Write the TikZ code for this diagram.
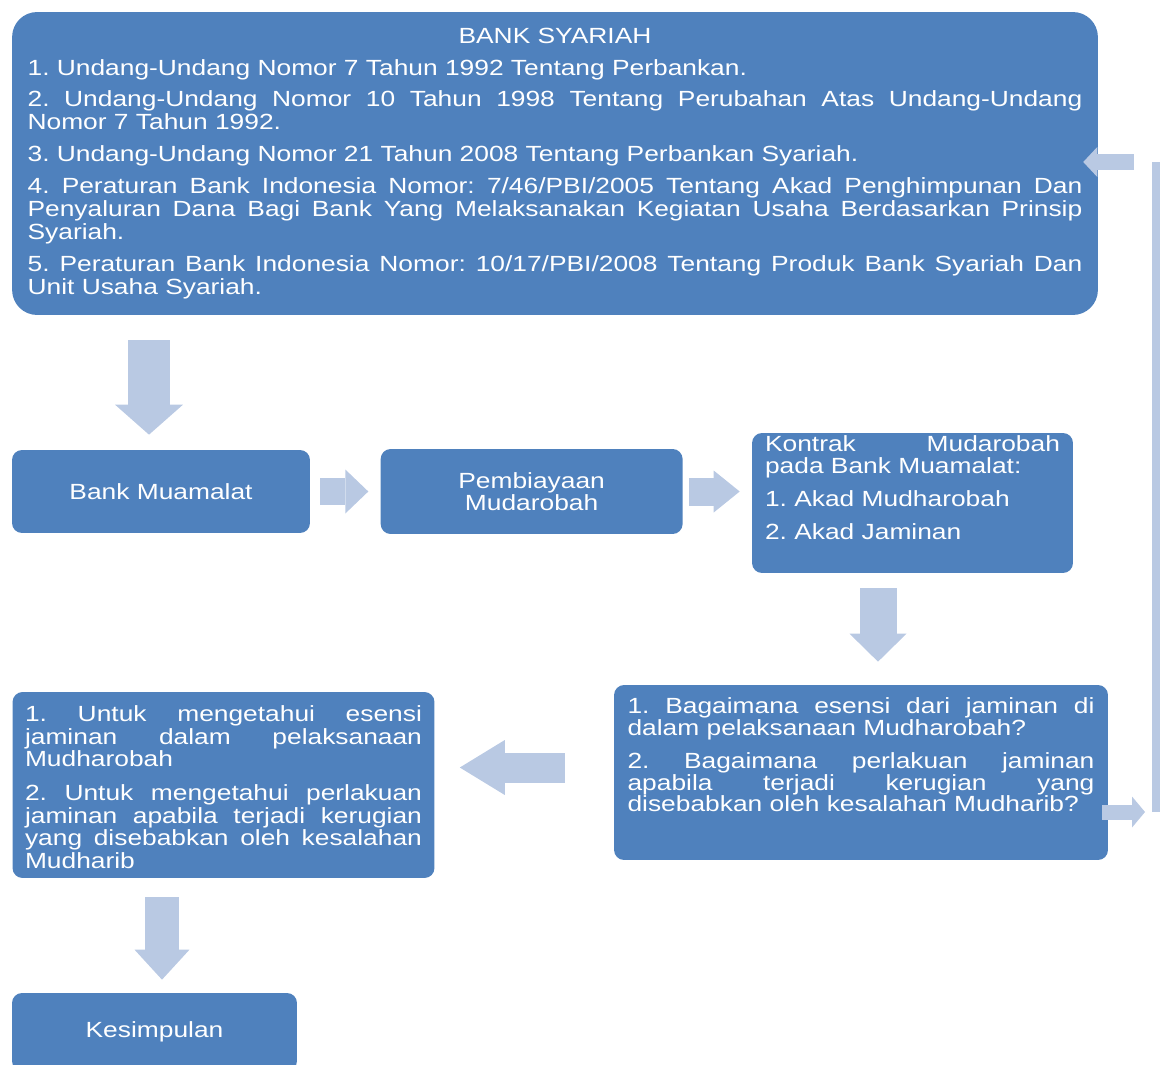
\documentclass[tikz,border=0pt]{standalone}
\usepackage{fontspec}
\setmainfont{Liberation Sans}[FakeStretch=1.2]
\usetikzlibrary{arrows.meta,positioning}
\definecolor{boxblue}{HTML}{4F81BD}
\definecolor{arrowblue}{HTML}{B9C9E3}
\frenchspacing

\begin{document}
\begin{tikzpicture}[x=0.02cm,y=-0.02cm,
  box/.style={fill=boxblue,text=white,rounded corners=0.2cm,inner sep=0pt,font=\fontsize{12.5}{12.3}\selectfont},
  boxtext/.style={text=white,inner sep=0pt,align=justify,font=\fontsize{12.5}{12.3}\selectfont,execute at begin node={\setlength{\parskip}{6.5pt}}},
  blockarr/.style n args={3}{draw=arrowblue,line width=#1,-{Triangle[width=#2,length=#3,line width=0pt]}}]
  \useasboundingbox (0,0) rectangle (1165,1064);

  % dasar hukum
  \node[box,rounded corners=0.5cm,minimum width=21.72cm,minimum height=6.06cm,text width=21.1cm,align=justify,
        font=\fontsize{12.5}{13.1}\selectfont,execute at begin node={\setlength{\parskip}{5pt}}] (syariah) at (555,163.5) {%
    {\centering BANK SYARIAH\par}
    1. Undang-Undang Nomor 7 Tahun 1992 Tentang Perbankan.\par
    2. Undang-Undang Nomor 10 Tahun 1998 Tentang Perubahan Atas Undang-Undang\linebreak Nomor 7 Tahun 1992.\par
    3. Undang-Undang Nomor 21 Tahun 2008 Tentang Perbankan Syariah.\par
    4. Peraturan Bank Indonesia Nomor: 7/46/PBI/2005 Tentang Akad Penghimpunan Dan\linebreak Penyaluran Dana Bagi Bank Yang Melaksanakan Kegiatan Usaha Berdasarkan Prinsip\linebreak Syariah.\par
    5. Peraturan Bank Indonesia Nomor: 10/17/PBI/2008 Tentang Produk Bank Syariah Dan\linebreak Unit Usaha Syariah.};

  % baris tengah
  \node[box,minimum width=5.96cm,minimum height=1.66cm] (muamalat) at (161,491.5) {Bank Muamalat};
  \node[box,minimum width=6.04cm,minimum height=1.7cm,align=center,right=1.4cm of muamalat] (pembiayaan) {Pembiayaan\\Mudarobah};
  \node[box,minimum width=6.42cm,minimum height=2.8cm] (kontrak) at (912.5,503) {};
  \node[boxtext,text width=5.9cm,below=0.06cm of kontrak.north] (kontraktext) {%
    Kontrak Mudarobah\linebreak pada Bank Muamalat:\par
    1. Akad Mudharobah\par
    2. Akad Jaminan};

  % rumusan masalah dan tujuan
  \node[box,minimum width=9.88cm,minimum height=3.5cm] (masalah) at (861,772.5) {};
  \node[boxtext,text width=9.34cm,below=0.26cm of masalah.north] (masalahtext) {%
    1. Bagaimana esensi dari jaminan di\linebreak dalam pelaksanaan Mudharobah?\par
    2. Bagaimana perlakuan jaminan\linebreak apabila terjadi kerugian yang\linebreak disebabkan oleh kesalahan Mudharib?};
  \node[box,minimum width=8.44cm,minimum height=3.72cm] (tujuan) at (223.5,785) {};
  \node[boxtext,text width=7.94cm,font=\fontsize{12.5}{12.8}\selectfont,below=0.28cm of tujuan.north] (tujuantext) {%
    1. Untuk mengetahui esensi\linebreak jaminan dalam pelaksanaan\linebreak Mudharobah\par
    2. Untuk mengetahui perlakuan\linebreak jaminan apabila terjadi kerugian\linebreak yang disebabkan oleh kesalahan\linebreak Mudharib};
  \node[box,minimum width=5.7cm,minimum height=1.56cm] (kesimpulan) at (154.5,1032) {Kesimpulan};

  % panah
  \draw[blockarr={0.84cm}{1.36cm}{0.6cm},shorten <=0.5cm,shorten >=0.3cm] ([xshift=-0.24cm]muamalat.north |- syariah.south) -- ([xshift=-0.24cm]muamalat.north);
  \draw[blockarr={0.54cm}{0.88cm}{0.46cm},shorten <=0.2cm,shorten >=0.24cm] (muamalat) -- (pembiayaan);
  \draw[blockarr={0.56cm}{0.84cm}{0.52cm},shorten <=0.12cm,shorten >=0.24cm] (pembiayaan.east) -- (pembiayaan.east -| kontrak.west);
  \draw[blockarr={0.74cm}{1.14cm}{0.56cm},shorten <=0.3cm,shorten >=0.46cm] ([xshift=-0.69cm]kontrak.south) -- ([xshift=-0.69cm]kontrak.south |- masalah.north);
  \draw[blockarr={0.6cm}{1.1cm}{0.9cm},shorten <=0.98cm,shorten >=0.5cm] ([yshift=0.1cm]masalah.west) -- ([yshift=0.1cm]masalah.west -| tujuan.east);
  \draw[blockarr={0.7cm}{1.1cm}{0.6cm},shorten <=0.38cm,shorten >=0.26cm] ([xshift=0.15cm]kesimpulan.north |- tujuan.south) -- ([xshift=0.15cm]kesimpulan.north);

  % umpan balik
  \coordinate (balikbawah) at (1156,812);
  \coordinate (balikatas) at (1156,162);
  \draw[blockarr={0.3cm}{0.62cm}{0.26cm},shorten <=-0.12cm,shorten >=0.22cm] (masalah.east |- balikbawah) -- (balikbawah);
  \draw[arrowblue,line width=0.16cm] (balikbawah) -- (balikatas);
  \draw[blockarr={0.32cm}{0.6cm}{0.28cm},shorten <=0.44cm,shorten >=-0.3cm] (balikatas) -- (syariah.east |- balikatas);
\end{tikzpicture}
\end{document}
